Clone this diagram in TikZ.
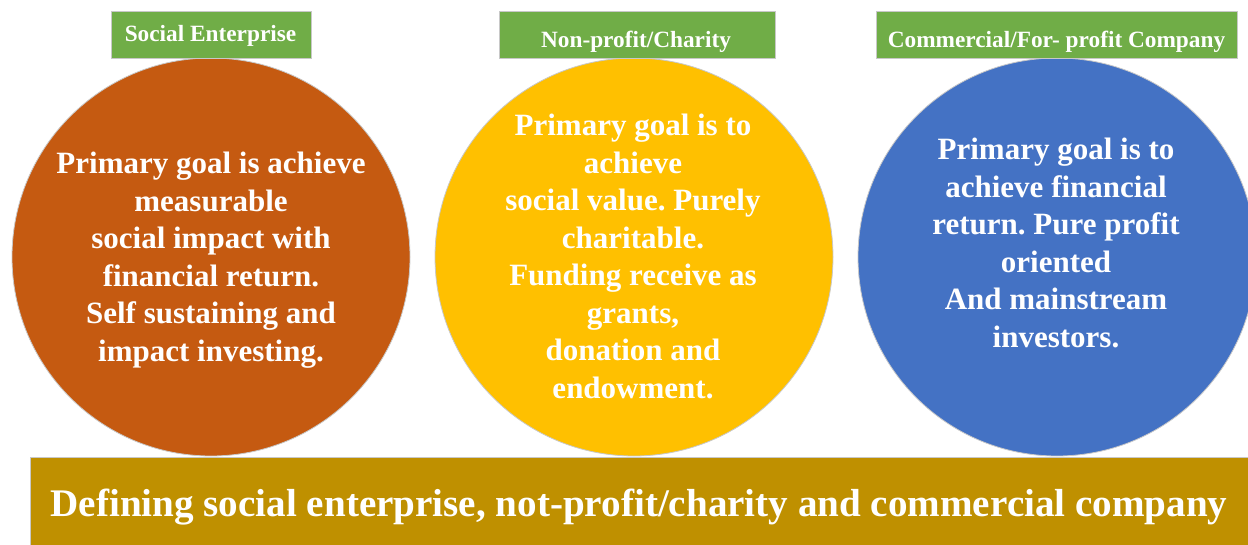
\documentclass[tikz,border=0pt]{standalone}
\usepackage{fontspec}
\setmainfont{Liberation Serif}
\frenchspacing
\definecolor{seorange}{HTML}{C55A11}
\definecolor{npyellow}{HTML}{FFC000}
\definecolor{cpblue}{HTML}{4472C4}
\definecolor{lblgreen}{HTML}{70AD47}
\definecolor{bargold}{HTML}{BF9000}
\definecolor{edgegray}{HTML}{C8C8C8}
\tikzset{
  disc/.style={circle, draw=edgegray, line width=0.8pt, minimum size=398pt, inner sep=0pt},
  label box/.style={draw=edgegray, line width=0.8pt, fill=lblgreen, inner sep=0pt, minimum height=47pt},
  label text/.style={text=white, anchor=base, inner sep=0pt, font=\bfseries\fontsize{23.3}{28}\selectfont},
  disc text/.style={text=white, align=center, inner sep=0pt,
     font=\bfseries\fontsize{31}{37.5}\selectfont},
}
\begin{document}
\begin{tikzpicture}[x=1pt,y=-1pt]
\useasboundingbox (0,0) rectangle (1248,545);
\begin{scope}
\clip (0,0) rectangle (1248,545);
% circles
\node[disc, fill=seorange] (c1) at (211,257) {};
\node[disc, fill=npyellow] (c2) at (634,257) {};
\node[disc, fill=cpblue] (c3) at (1057,257) {};
% bottom bar
\node[draw=edgegray, line width=0.8pt, fill=bargold, minimum width=1230pt, minimum height=100pt,
      anchor=north west, inner sep=0pt] (bar) at (29.5,456.5) {};
\end{scope}
\node[text=white, font=\bfseries\fontsize{39.1}{44}\selectfont, anchor=base] (bartext) at (639,516.5)
  {Defining social enterprise, not-profit/charity and commercial company};
% label boxes
\node[label box, minimum width=200pt, anchor=north west] (l1) at (111,11) {};
\node[label text] (t1) at (210.5,41.7) {Social Enterprise};
\node[label box, minimum width=276pt, anchor=north west] (l2) at (499,11) {};
\node[label text] (t2) at (636,48) {Non-profit/Charity};
\node[label box, minimum width=361pt, anchor=north west] (l3) at (876,11) {};
\node[label text] (t3) at (1056.5,48) {Commercial/For- profit Company};
% circle texts
\node[disc text] (d1) at (211,260.3) {Primary goal is achieve\\measurable\\social impact with\\financial return.\\Self sustaining and\\impact investing.};
\node[disc text] (d2) at (633,256.5) {Primary goal is to\\achieve\\social value. Purely\\charitable.\\Funding receive as\\grants,\\donation and\\endowment.};
\node[disc text] (d3) at (1056,242.8) {Primary goal is to\\achieve financial\\return. Pure profit\\oriented\\And mainstream\\investors.};
\end{tikzpicture}
\end{document}
